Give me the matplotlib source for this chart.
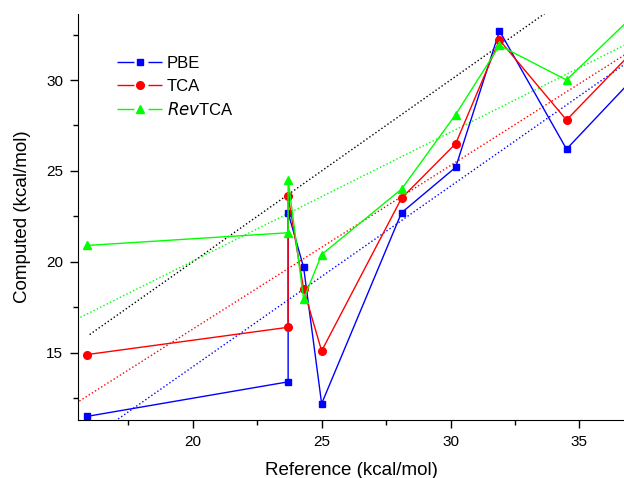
import numpy as np
import matplotlib
matplotlib.use("Agg")
import matplotlib.pyplot as plt
from matplotlib.lines import Line2D
from matplotlib.ticker import MultipleLocator

plt.rcParams['font.family'] = ['Liberation Sans', 'DejaVu Sans']

# Datos
referencia = [15.9, 23.7, 23.7, 24.3, 25.0, 28.1, 30.2, 31.9, 34.5, 37.5]
pbe = [11.5, 13.4, 22.7, 19.7, 12.2, 22.7, 25.2, 32.7, 26.2, 30.7]
tca = [14.9, 16.4, 23.6, 18.5, 15.1, 23.5, 26.5, 32.2, 27.8, 32.2]
revtca = [20.9, 21.6, 24.5, 17.95, 20.4, 24.0, 28.1, 31.9, 30.0, 34.1]

# ajustes lineales (pendiente, ordenada)
ajuste_pbe = [0.993, -5.63]
ajuste_tca = [0.90, -1.7]
ajuste_revtca = [0.709, 5.86]

VERDE = "#00ff00"

fig = plt.figure(figsize=(6.24, 4.78), dpi=100)
ax = fig.add_axes([0.1255, 0.1213, 0.8745, 0.8494])

# linea y = x
xd = np.array([16.0, 40.0])
ax.plot(xd, xd, color="black", linestyle=":", linewidth=1)

xf = np.array([15.0, 40.0])
for (m, b), c in [(ajuste_pbe, "blue"), (ajuste_tca, "red"), (ajuste_revtca, VERDE)]:
    ax.plot(xf, m * xf + b, color=c, linestyle=":", linewidth=1)

ax.plot(referencia, pbe, color="blue", marker="s", markersize=5, linewidth=1)
ax.plot(referencia, tca, color="red", marker="o", markersize=5.5, linewidth=1)
ax.plot(referencia, revtca, color=VERDE, marker="^", markersize=5.5, linewidth=1)

ax.set_xlim(15.56, 36.73)
ax.set_ylim(11.3, 33.63)
ax.xaxis.set_major_locator(MultipleLocator(5))
ax.xaxis.set_minor_locator(MultipleLocator(2.5))
ax.yaxis.set_major_locator(MultipleLocator(5))
ax.yaxis.set_minor_locator(MultipleLocator(2.5))
ax.tick_params(which="major", direction="out", length=6, width=1, labelsize=11)
ax.tick_params(which="minor", direction="out", length=3.4, width=1)
ax.tick_params(axis="x", which="major", pad=5)
ax.tick_params(axis="y", which="major", pad=5)
ax.spines["top"].set_visible(False)
ax.spines["right"].set_visible(False)

ax.set_xlabel("Reference (kcal/mol)", fontsize=13.5, labelpad=9)
ax.set_ylabel("Computed (kcal/mol)", fontsize=13.5, labelpad=10.5)

# leyenda: linea cortada alrededor del marcador
def handle(color, marker, ms):
    linea = Line2D([], [], color=color, linewidth=1, dashes=[12.2, 10.1, 10.1, 100])
    punto = Line2D([], [], color=color, marker=marker, markersize=ms, linestyle="none")
    return (linea, punto)

handles = [handle("blue", "s", 5), handle("red", "o", 5.5), handle(VERDE, "^", 5.5)]
ax.legend(handles, ["PBE", "TCA", r"$\it{Rev}$TCA"], loc="upper left",
          bbox_to_anchor=(0.071, 0.896), frameon=False, fontsize=12,
          borderpad=0, borderaxespad=0,
          handlelength=2.7, handletextpad=0.3, labelspacing=0.45)

plt.savefig("out.png", dpi=100)
